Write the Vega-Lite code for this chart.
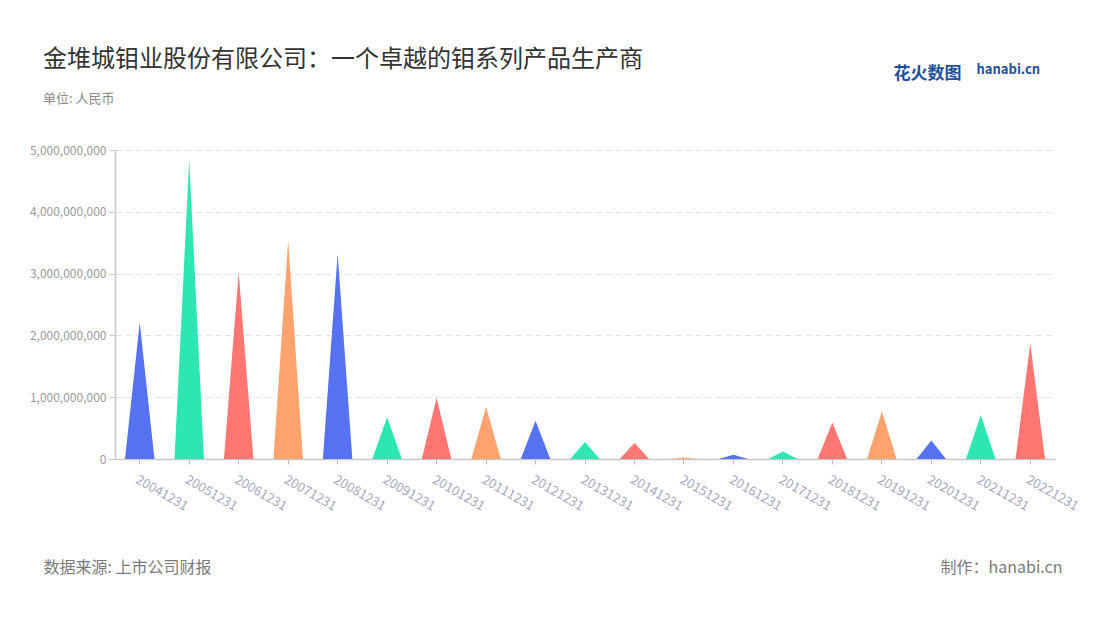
{
  "$schema": "https://vega.github.io/schema/vega-lite/v6.json",
  "autosize": "none",
  "width": 940,
  "height": 309,
  "padding": {"left": 115, "top": 150, "right": 45, "bottom": 161},
  "background": "white",
  "title": {
    "text": "金堆城钼业股份有限公司：一个卓越的钼系列产品生产商",
    "subtitle": "单位: 人民币",
    "anchor": "start",
    "frame": "group",
    "dx": -72,
    "dy": 90,
    "offset": 47,
    "font": "Noto Sans CJK SC",
    "fontSize": 24,
    "fontWeight": "normal",
    "color": "#333333",
    "subtitleFont": "Noto Sans CJK SC",
    "subtitleFontSize": 13,
    "subtitleColor": "#8a8a8a",
    "subtitlePadding": 21
  },
  "data": {
    "values": [
      {"year": "20041231", "value": 2210000000},
      {"year": "20051231", "value": 4840000000},
      {"year": "20061231", "value": 3020000000},
      {"year": "20071231", "value": 3540000000},
      {"year": "20081231", "value": 3320000000},
      {"year": "20091231", "value": 680000000},
      {"year": "20101231", "value": 990000000},
      {"year": "20111231", "value": 840000000},
      {"year": "20121231", "value": 620000000},
      {"year": "20131231", "value": 275000000},
      {"year": "20141231", "value": 260000000},
      {"year": "20151231", "value": 26000000},
      {"year": "20161231", "value": 70000000},
      {"year": "20171231", "value": 120000000},
      {"year": "20181231", "value": 590000000},
      {"year": "20191231", "value": 770000000},
      {"year": "20201231", "value": 300000000},
      {"year": "20211231", "value": 710000000},
      {"year": "20221231", "value": 1870000000}
    ]
  },
  "transform": [
    {"stack": "value", "groupby": ["year"], "as": ["a0", "a1"]},
    {"stack": "value", "groupby": ["year"], "as": ["b0", "b1"]},
    {"fold": ["a0", "a1", "b0"], "as": ["corner", "pos"]}
  ],
  "layer": [
    {
      "mark": {"type": "area", "orient": "vertical"},
      "encoding": {
        "x": {
          "field": "year",
          "type": "nominal",
          "scale": {"type": "band", "paddingInner": 0, "paddingOuter": 0},
          "axis": {
            "orient": "bottom",
            "labelAngle": 30,
            "labelAlign": "left",
            "labelBaseline": "top",
            "labelPadding": 9,
            "labelColor": "#a5a9bd",
            "labelFontSize": 13,
            "labelFont": "Noto Sans CJK SC",
            "tickColor": "#bbbbbb",
            "tickSize": 5,
            "domainColor": "#c8c8c8",
            "domainWidth": 1.5,
            "grid": false,
            "title": "数据来源: 上市公司财报",
            "titleFont": "Noto Sans CJK SC",
            "titleFontSize": 16,
            "titleFontWeight": "normal",
            "titleColor": "#7a7a7a",
            "titleX": -72,
            "titleY": 108,
            "titleAlign": "left",
            "titleAnchor": "start",
            "titleBaseline": "middle"
          }
        },
        "xOffset": {
          "field": "corner",
          "type": "nominal",
          "scale": {"type": "point", "domain": ["a0", "a1", "b0"], "padding": 0.68}
        },
        "y": {
          "field": "pos",
          "type": "quantitative",
          "stack": null,
          "scale": {"domain": [0, 5000000000], "nice": false},
          "axis": {
            "values": [0, 1000000000, 2000000000, 3000000000, 4000000000, 5000000000],
            "format": ",d",
            "labelColor": "#9a9a9a",
            "labelFontSize": 12,
            "labelFont": "Noto Sans CJK SC",
            "labelPadding": 3,
            "tickSize": 6,
            "tickColor": "#c8c8c8",
            "domainColor": "#c8c8c8",
            "domainWidth": 1.5,
            "grid": true,
            "gridColor": "#e3e3e3",
            "gridDash": [6, 4],
            "gridWidth": 1.2,
            "title": "花火数图",
            "titleFont": "Noto Sans CJK SC",
            "titleFontSize": 17,
            "titleFontWeight": "bold",
            "titleColor": "#1e4f9e",
            "titleAngle": 0,
            "titleX": 778,
            "titleY": -77,
            "titleAlign": "left",
            "titleBaseline": "middle"
          }
        },
        "detail": {"field": "year"},
        "color": {
          "field": "year",
          "type": "nominal",
          "scale": {"range": ["#5672F0", "#2EE6B1", "#FF7672", "#FFA36E"]},
          "legend": null
        }
      }
    },
    {
      "mark": {"type": "point", "opacity": 0},
      "encoding": {
        "x": {
          "field": "year",
          "type": "nominal",
          "axis": {
            "orient": "top",
            "labels": false,
            "ticks": false,
            "domain": false,
            "grid": false,
            "title": "hanabi.cn",
            "titleFont": "Noto Sans CJK SC",
            "titleFontSize": 13,
            "titleFontWeight": "bold",
            "titleColor": "#1e4f9e",
            "titleX": 861,
            "titleY": -81,
            "titleAlign": "left",
            "titleBaseline": "middle"
          }
        },
        "y": {
          "field": "pos",
          "type": "quantitative",
          "axis": {
            "orient": "right",
            "labels": false,
            "ticks": false,
            "domain": false,
            "grid": false,
            "title": "制作：hanabi.cn",
            "titleFont": "Noto Sans CJK SC",
            "titleFontSize": 16,
            "titleFontWeight": "normal",
            "titleColor": "#7a7a7a",
            "titleAngle": 0,
            "titleX": 7,
            "titleY": 417,
            "titleAlign": "right",
            "titleBaseline": "middle"
          }
        }
      }
    }
  ],
  "resolve": {"axis": {"x": "independent", "y": "independent"}},
  "config": {"view": {"stroke": null}}
}
